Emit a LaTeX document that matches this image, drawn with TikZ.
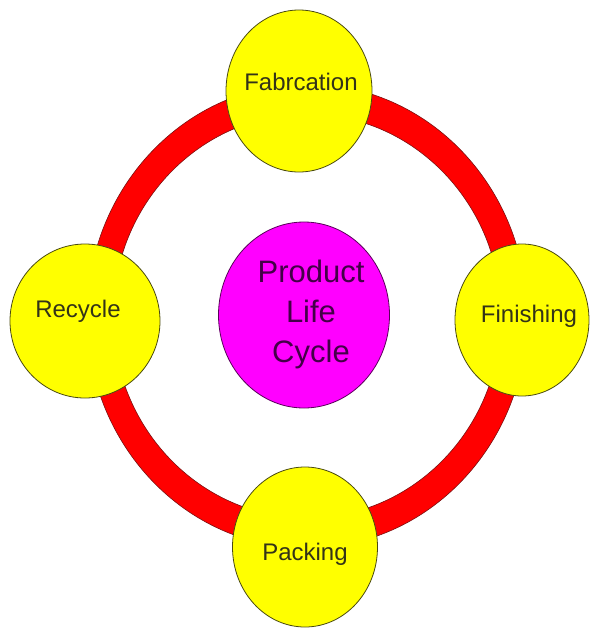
\documentclass[tikz,border=0pt]{standalone}
\usepackage{fontspec}
\setmainfont{Liberation Sans}
\usetikzlibrary{shapes.geometric}
\definecolor{ringred}{HTML}{FF0000}
\definecolor{ringedge}{HTML}{7A1010}
\definecolor{ylw}{HTML}{FFFF00}
\definecolor{ylwedge}{HTML}{4A4A10}
\definecolor{mag}{HTML}{FF00FF}
\definecolor{magedge}{HTML}{5A005A}
\definecolor{ytext}{HTML}{333318}
\definecolor{mtext}{HTML}{440048}
\tikzset{
  stage/.style={ellipse, draw=ylwedge, line width=0.8pt, fill=ylw, inner sep=0pt},
  stagetext/.style={text=ytext, font=\fontsize{24}{28}\selectfont, inner sep=0pt},
  hub/.style={ellipse, draw=magedge, line width=0.8pt, fill=mag, inner sep=0pt},
  hubtext/.style={text=mtext, font=\fontsize{31}{40}\selectfont, align=center, inner sep=0pt}
}
\begin{document}
\begin{tikzpicture}[x=1pt,y=-1pt]
\useasboundingbox (0,0) rectangle (590,630);
% ring
\coordinate (rc) at (307,316);
\fill[ringred, even odd rule, draw=ringedge, line width=0.6pt]
  (rc) ellipse [x radius=220, y radius=232]
  (rc) ellipse [x radius=194, y radius=202];
% stages
\node[stage, minimum width=146pt, minimum height=162pt] (fab) at (299,91) {};
\node[stage, minimum width=150pt, minimum height=154pt] (rec) at (85,321) {};
\node[stage, minimum width=134pt, minimum height=152pt] (fin) at (522,320) {};
\node[stage, minimum width=145pt, minimum height=160pt] (pack) at (305,547) {};
% hub
\node[hub, minimum width=171pt, minimum height=186pt] (hub) at (304,315) {};
% texts
\node[stagetext] (tfab) at (301,82) {Fabrcation};
\node[stagetext] (trec) at (78,311) {Recycle};
\node[stagetext] (tfin) at (529,316) {Finishing};
\node[stagetext] (tpack) at (305,554) {Packing};
\node[hubtext] (thub) at (311,314) {Product\\Life\\Cycle};
\end{tikzpicture}
\end{document}
